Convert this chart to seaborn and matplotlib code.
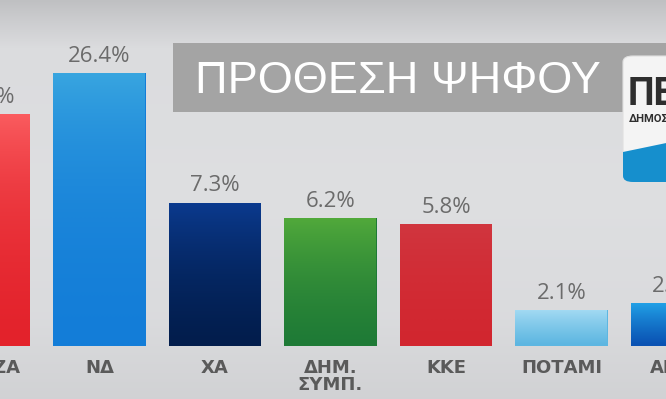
import numpy as np
import pandas as pd
import matplotlib
matplotlib.use("Agg")
import matplotlib.pyplot as plt
import seaborn as sns
from matplotlib.patches import Rectangle, FancyBboxPatch, Polygon
from matplotlib.transforms import blended_transform_factory

# ---- data ----
parties = ["ΣΥΡΙΖΑ", "ΝΔ", "ΧΑ", "ΔΗΜ.\nΣΥΜΠ.", "ΚΚΕ", "ΠΟΤΑΜΙ", "ΑΝΕΛ"]
values = [17.8, 26.4, 7.3, 6.2, 5.8, 2.1, 2.3]
top_colors = ["#fb5d60", "#39a6e0", "#0b3b90", "#52aa3b", "#d0363f", "#a5dbf3", "#22a3e8"]
bottom_colors = ["#e3222b", "#137dd8", "#021d4c", "#1e7a36", "#d2262f", "#5db6e1", "#0a52b3"]
title = "ΠΡΟΘΕΣΗ ΨΗΦΟΥ"

W, H = 666, 399
fig = plt.figure(figsize=(W / 100, H / 100), dpi=100)

# background gradient
bgax = fig.add_axes([0, 0, 1, 1], zorder=-10)
ys = np.linspace(0, 1, 400)
g = np.interp(ys, [0, 0.04, 0.12, 0.5, 0.8, 1.0], [0.75, 0.79, 0.86, 0.87, 0.855, 0.82])
bg = np.stack([g, g + 0.003, g + 0.012], axis=-1)[:, None, :].repeat(2, axis=1)
bgax.imshow(np.clip(bg, 0, 1), aspect="auto", extent=[0, 1, 1, 0])
bgax.set_xlim(0, 1); bgax.set_ylim(1, 0)
bgax.axis("off")

# main axes
ax = fig.add_axes([0, 53.5 / H, 1, 345.5 / H])
ax.patch.set_alpha(0)
df = pd.DataFrame({"party": parties, "value": values})
sns.barplot(data=df, x="party", y="value", hue="party", palette=bottom_colors,
            width=0.8, saturation=1, legend=False, ax=ax)
ax.set_yscale("function", functions=(np.log1p, np.expm1))
ylo, yhi = 1.233, 52.4
ax.set_ylim(ylo, yhi)
ax.set_xlim(0.1385, 5.905)
for s in ax.spines.values():
    s.set_visible(False)
ax.set_xticks([]); ax.set_yticks([])
ax.set_xlabel(""); ax.set_ylabel("")

# gradient fill for bars (visible part of each bar)
for patch, ct, cb in zip(ax.patches, top_colors, bottom_colors):
    x0 = patch.get_x(); w = patch.get_width(); h = patch.get_height()
    c1 = np.array(matplotlib.colors.to_rgb(ct)); c2 = np.array(matplotlib.colors.to_rgb(cb))
    t = np.linspace(0, 1, 256)[:, None]
    grad = (c1 * (1 - t) + c2 * t)[:, None, :].repeat(2, axis=1)
    ax.imshow(grad, extent=[x0, x0 + w, ylo, h], origin="upper", aspect="auto",
              interpolation="bilinear", zorder=3)
ax.set_xlim(0.1385, 5.905)
ax.set_ylim(ylo, yhi)

# value labels
for i, v in enumerate(values):
    ax.annotate(f"{v}%", xy=(i, v), xytext=(0, 8), textcoords="offset points",
                ha="center", va="baseline", fontsize=16, color="#6b6b6b",
                family="Open Sans", zorder=5, annotation_clip=False)

# category labels
tr = blended_transform_factory(ax.transData, ax.transAxes)
for i, p in enumerate(parties):
    ax.annotate(p, xy=(i, 0), xycoords=tr, xytext=(0, -9.5), textcoords="offset points",
                ha="center", va="top", fontsize=13, fontweight="bold", color="#5a5a5a",
                family="DejaVu Sans", linespacing=0.95, annotation_clip=False)

# title box
fig.patches.append(Rectangle((172.7 / W, 1 - 111.7 / H), 1, (111.7 - 43.3) / H,
                             transform=fig.transFigure, facecolor="#a4a4a4",
                             edgecolor="none", zorder=1))
fig.text(195 / W, 1 - 93 / H, title, color="white", fontsize=32.5,
         family="Liberation Sans", ha="left", va="baseline", zorder=2)

# logo (cut off at the right)
logo = FancyBboxPatch((623 / W, 1 - 182 / H), 80 / W, (182 - 56) / H,
                      boxstyle="round,pad=0,rounding_size=0.015",
                      transform=fig.transFigure, facecolor="#f4f4f4",
                      edgecolor="#e0e0e0", linewidth=0.8, zorder=3)
fig.patches.append(logo)
band = Polygon([(623 / W, 1 - 152 / H), (700 / W, 1 - 136 / H), (700 / W, 1 - 183 / H),
                (623 / W, 1 - 183 / H)], closed=True, transform=fig.transFigure,
               facecolor="#168fcd", edgecolor="none", zorder=4)
band.set_clip_path(logo)
fig.patches.append(band)
fig.text(628 / W, 1 - 105 / H, "ΠΕΡΙΦΕΡΕΙΑ", color="#2e2e2e", fontsize=27,
         fontweight="bold", family="Roboto", ha="left", va="baseline", zorder=5)
fig.text(629 / W, 1 - 122 / H, "ΔΗΜΟΣΚΟΠΗΣΗ", color="#2e2e2e", fontsize=8,
         fontweight="bold", family="Roboto", ha="left", va="baseline", zorder=5)

fig.savefig("out.png", dpi=100)
